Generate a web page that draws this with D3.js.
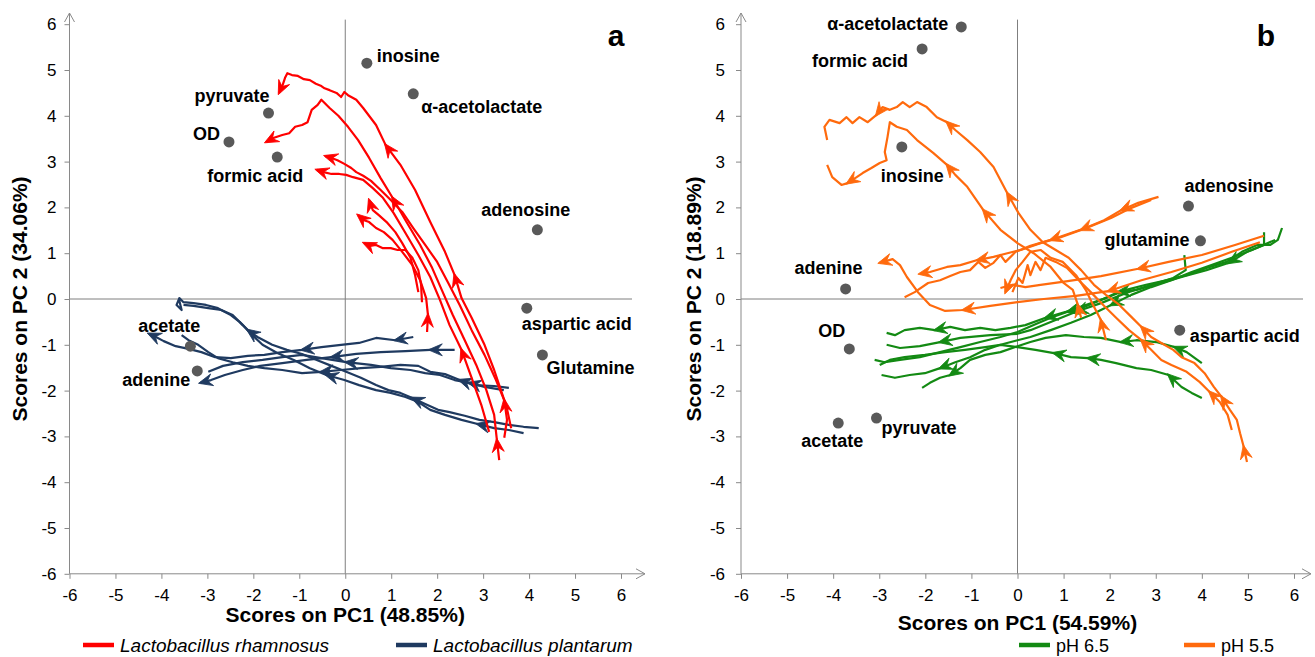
<!DOCTYPE html>
<html>
<head>
<meta charset="utf-8">
<script src="https://cdn.jsdelivr.net/npm/d3@7"></script>
<style>
  body { margin: 0; background: #fff; }
  text { font-family: "Liberation Sans", Arial, sans-serif; }
</style>
</head>
<body>
<script>
// axis ticks (both panels)
const tickValues = [-6, -5, -4, -3, -2, -1, 0, 1, 2, 3, 4, 5, 6];

// panel a: loadings
const loadingNamesA = ['inosine', 'α-acetolactate', 'pyruvate', 'OD', 'formic acid', 'adenosine', 'aspartic acid', 'Glutamine', 'acetate', 'adenine'];
const loadingPC1A = [0.47, 1.48, -1.67, -2.53, -1.48, 4.18, 3.95, 4.29, -3.37, -3.22];
const loadingPC2A = [5.15, 4.48, 4.06, 3.43, 3.10, 1.51, -0.20, -1.22, -1.03, -1.57];

// panel a: L. rhamnosus score trajectories [PC1, PC2]
const rhamnosus = [
  [[3.46,-3.03],[3.52,-2.64],[3.46,-2.21],[3.24,-1.55],[3.03,-1.00],[2.75,-0.41],[2.53,0.02],[2.38,0.52],[2.17,1.03],[1.85,1.68],[1.52,2.38],[1.20,2.93],[0.88,3.36],[0.67,3.80],[0.39,4.17],[0.24,4.35],[0.06,4.45],[-0.02,4.52],[-0.09,4.41],[-0.19,4.50],[-0.34,4.56],[-0.45,4.60],[-0.52,4.65],[-0.64,4.70],[-0.77,4.78],[-0.90,4.80],[-1.03,4.87],[-1.16,4.89],[-1.26,4.93],[-1.31,4.83],[-1.37,4.65],[-1.44,4.50]],
  [[3.35,-3.52],[3.30,-3.08],[3.24,-2.53],[3.07,-1.99],[2.85,-1.44],[2.60,-0.90],[2.34,-0.35],[2.10,0.20],[1.89,0.68],[1.63,1.18],[1.31,1.72],[1.03,2.21],[0.77,2.64],[0.52,3.08],[0.28,3.47],[0.06,3.76],[-0.15,4.00],[-0.34,4.17],[-0.52,4.35],[-0.60,4.24],[-0.73,4.13],[-0.82,3.86],[-0.94,3.80],[-1.09,3.76],[-1.22,3.62],[-1.37,3.58],[-1.55,3.52],[-1.72,3.43]],
  [[3.61,-2.82],[3.50,-2.31],[3.28,-1.77],[3.03,-1.22],[2.75,-0.68],[2.49,-0.13],[2.23,0.37],[2.00,0.81],[1.74,1.18],[1.48,1.55],[1.24,1.90],[0.99,2.16],[0.77,2.38],[0.56,2.58],[0.39,2.69],[0.24,2.77],[0.13,2.86],[-0.02,2.95],[-0.17,3.03],[-0.30,3.08],[-0.43,3.12]],
  [[3.13,-2.90],[2.96,-2.31],[2.75,-1.72],[2.53,-1.11],[2.27,-0.57],[2.06,-0.02],[1.85,0.48],[1.59,0.96],[1.31,1.44],[1.05,1.88],[0.82,2.21],[0.60,2.42],[0.39,2.60],[0.17,2.66],[0.02,2.71],[-0.13,2.73],[-0.30,2.73],[-0.47,2.77],[-0.62,2.82]],
  [[1.67,-0.07],[1.65,0.31],[1.59,0.63],[1.46,0.90],[1.31,1.07],[1.14,1.07],[0.99,1.11],[0.82,1.11],[0.67,1.18],[0.54,1.16],[0.41,1.22]],
  [[1.78,-0.72],[1.80,-0.35],[1.76,0.02],[1.63,0.41],[1.46,0.74],[1.24,1.03],[1.03,1.29],[0.84,1.46],[0.67,1.55],[0.52,1.68],[0.41,1.72],[0.28,1.83]],
  [[1.59,0.15],[1.52,0.52],[1.42,0.90],[1.24,1.22],[1.09,1.46],[0.90,1.68],[0.73,1.83],[0.60,1.94],[0.54,2.10],[0.52,2.16]]
];
const rhamnosusArrows = [[2, 7, 12, 31], [1, 11, 27], [20], [3, 18], [10], [1, 11], [9]];

// panel a: L. plantarum score trajectories
const plantarum = [
  [[1.48,-0.83],[1.09,-0.90],[0.67,-0.85],[0.30,-0.96],[-0.09,-1.00],[-0.52,-1.05],[-0.94,-1.11],[-1.37,-1.16],[-1.76,-1.22],[-2.12,-1.24],[-2.49,-1.29],[-2.83,-1.27],[-3.13,-1.16],[-3.41,-1.09],[-3.69,-1.03],[-3.95,-0.92],[-4.16,-0.81],[-4.27,-0.76]],
  [[2.38,-1.11],[1.85,-1.11],[1.31,-1.14],[0.77,-1.16],[0.24,-1.20],[-0.30,-1.27],[-0.84,-1.33],[-1.37,-1.40],[-1.85,-1.46],[-2.23,-1.55],[-2.62,-1.66],[-2.92,-1.77],[-3.15,-1.83]],
  [[3.56,-1.94],[3.24,-1.90],[2.81,-1.88],[2.49,-1.77],[2.17,-1.64],[1.85,-1.59],[1.59,-1.46],[1.20,-1.44],[0.77,-1.48],[0.34,-1.51],[-0.09,-1.55],[-0.52,-1.59],[-0.94,-1.62],[-1.37,-1.55],[-1.76,-1.51],[-2.12,-1.46],[-2.45,-1.38],[-2.77,-1.29],[-2.98,-1.16],[-3.20,-1.00],[-3.41,-0.90],[-3.56,-0.79]],
  [[4.21,-2.82],[3.88,-2.79],[3.56,-2.75],[3.24,-2.69],[2.92,-2.64],[2.60,-2.55],[2.27,-2.47],[2.02,-2.42],[1.74,-2.29],[1.46,-2.16],[1.20,-2.05],[0.94,-1.99],[0.67,-1.88],[0.34,-1.72],[0.02,-1.59],[-0.30,-1.46],[-0.62,-1.33],[-0.94,-1.20],[-1.27,-1.11],[-1.59,-1.00],[-1.91,-0.83],[-2.12,-0.68],[-2.30,-0.50],[-2.49,-0.35],[-2.77,-0.20],[-3.03,-0.13],[-3.30,-0.09],[-3.52,-0.07],[-3.61,0.02],[-3.67,-0.13],[-3.56,-0.24],[-3.62,0.00]],
  [[3.88,-2.93],[3.56,-2.86],[3.24,-2.82],[2.88,-2.73],[2.53,-2.64],[2.17,-2.53],[1.85,-2.42],[1.59,-2.25],[1.31,-2.14],[0.99,-2.05],[0.67,-1.99],[0.30,-1.88],[-0.02,-1.77],[-0.41,-1.66],[-0.77,-1.51],[-1.12,-1.33],[-1.48,-1.18],[-1.80,-1.00],[-2.02,-0.79],[-2.23,-0.57],[-2.45,-0.35],[-2.70,-0.24],[-2.98,-0.20],[-3.30,-0.15],[-3.52,-0.13]],
  [[3.45,-1.99],[3.03,-1.92],[2.70,-1.83],[2.38,-1.77],[2.06,-1.66],[1.74,-1.62],[1.42,-1.55],[0.99,-1.51],[0.56,-1.44],[0.02,-1.38],[-0.52,-1.29],[-0.94,-1.22],[-1.37,-1.27],[-1.80,-1.33],[-2.23,-1.38],[-2.66,-1.46],[-2.98,-1.59]]
];
const plantarumArrows = [[1, 6, 17], [1, 5, 12], [3, 11], [9, 21], [3, 13], [2, 9]];

// panel b: loadings
const loadingNamesB = ['α-acetolactate', 'formic acid', 'inosine', 'adenosine', 'glutamine', 'adenine', 'OD', 'aspartic acid', 'acetate', 'pyruvate'];
const loadingPC1B = [-1.22, -2.07, -2.51, 3.71, 3.97, -3.73, -3.65, 3.52, -3.89, -3.06];
const loadingPC2B = [5.94, 5.46, 3.32, 2.03, 1.27, 0.22, -1.09, -0.68, -2.71, -2.60];

// panel b: pH 6.5 trajectories
const pH65 = [
  [[5.74,1.55],[5.65,1.29],[5.48,1.18],[5.20,1.18],[4.87,1.03],[4.54,0.81],[4.10,0.68],[3.67,0.52],[3.23,0.41],[2.79,0.31],[2.36,0.20],[1.92,0.02],[1.48,-0.13],[1.05,-0.28],[0.61,-0.41],[0.17,-0.57],[-0.15,-0.63],[-0.48,-0.68],[-0.81,-0.63],[-1.14,-0.68],[-1.46,-0.61],[-1.79,-0.68],[-2.12,-0.63],[-2.45,-0.68],[-2.66,-0.79],[-2.84,-0.74]],
  [[5.35,1.46],[5.35,1.18],[4.98,1.03],[4.59,0.79],[4.10,0.63],[3.62,0.50],[3.12,0.35],[2.58,0.20],[2.18,0.15],[1.81,-0.02],[1.38,-0.20],[1.09,-0.28],[0.72,-0.41],[0.35,-0.57],[0.00,-0.72],[-0.37,-0.83],[-0.81,-0.94],[-1.24,-1.05],[-1.68,-1.16],[-2.12,-1.27],[-2.55,-1.33],[-2.88,-1.38],[-3.10,-1.33]],
  [[5.59,1.29],[5.09,1.07],[4.65,0.90],[4.21,0.74],[3.78,0.59],[3.34,0.41],[2.90,0.26],[2.47,0.09],[2.03,-0.13],[1.59,-0.35],[1.16,-0.52],[0.72,-0.68],[0.28,-0.83],[0.00,-0.90],[-0.37,-1.00],[-0.70,-1.11],[-1.03,-1.27],[-1.35,-1.38],[-1.68,-1.51],[-2.01,-1.62],[-2.34,-1.66],[-2.66,-1.72],[-2.95,-1.66]],
  [[4.00,-1.40],[3.67,-1.16],[3.41,-1.05],[3.01,-0.94],[2.58,-0.90],[2.25,-0.94],[1.81,-0.85],[1.44,-0.83],[1.05,-0.79],[0.61,-0.85],[0.28,-0.94],[0.00,-1.03],[-0.37,-1.16],[-0.70,-1.22],[-1.03,-1.33],[-1.24,-1.51],[-1.46,-1.66],[-1.68,-1.72],[-1.90,-1.83],[-2.07,-1.94]],
  [[4.00,-2.16],[3.78,-2.05],[3.56,-1.92],[3.28,-1.66],[2.90,-1.55],[2.58,-1.51],[2.14,-1.40],[1.81,-1.33],[1.53,-1.29],[1.16,-1.27],[0.79,-1.18],[0.39,-1.11],[0.00,-1.05],[-0.37,-1.00],[-0.70,-1.05],[-1.14,-1.11],[-1.57,-1.16],[-2.01,-1.22],[-2.45,-1.27],[-2.77,-1.33],[-2.99,-1.44]],
  [[3.62,0.96],[3.65,0.63],[3.38,0.46],[2.90,0.31],[2.36,0.13],[1.81,-0.09],[1.27,-0.28],[0.72,-0.50],[0.28,-0.68],[0.00,-0.76],[-0.59,-0.79],[-1.24,-0.85],[-1.68,-0.94],[-2.12,-1.03],[-2.55,-1.07],[-2.84,-1.00]]
];
const pH65Arrows = [[14, 21], [3, 8, 11], [8, 18], [2, 5, 16], [3, 8, 10], [6, 12]];

// panel b: pH 5.5 trajectories
const pH55 = [
  [[4.98,-3.56],[4.91,-3.23],[4.83,-2.93],[4.76,-2.64],[4.61,-2.42],[4.43,-2.14],[4.26,-1.92],[4.06,-1.62],[3.84,-1.40],[3.56,-1.27],[3.38,-1.11],[3.12,-0.96],[2.90,-0.83],[2.69,-0.61],[2.47,-0.39],[2.21,-0.13],[1.92,0.09],[1.66,0.31],[1.38,0.63],[1.11,0.90],[0.83,1.07],[0.55,1.24],[0.28,1.51],[0.02,1.88],[-0.22,2.31],[-0.52,2.88],[-0.81,3.21],[-1.09,3.47],[-1.35,3.69],[-1.53,3.86],[-1.75,3.97],[-1.97,4.19],[-2.18,4.30],[-2.34,4.19],[-2.49,4.30],[-2.62,4.19],[-2.77,4.13],[-2.93,4.19],[-3.06,4.02],[-3.25,3.86],[-3.43,3.97],[-3.58,3.84],[-3.71,3.97],[-3.86,3.84],[-4.08,3.91],[-4.19,3.76],[-4.13,3.47]],
  [[1.38,-0.41],[1.31,-0.13],[1.20,0.20],[1.00,0.35],[0.72,0.70],[0.35,1.00],[0.00,1.22],[-0.37,1.51],[-0.74,1.94],[-1.09,2.45],[-1.35,2.71],[-1.53,2.93],[-1.83,3.19],[-2.18,3.47],[-2.40,3.69],[-2.62,3.76],[-2.77,3.86],[-2.82,3.54],[-2.88,3.21],[-2.84,3.03],[-2.99,2.97],[-3.17,2.86],[-3.36,2.75],[-3.49,2.66],[-3.69,2.53],[-3.82,2.49],[-4.02,2.66],[-4.13,2.93]],
  [[1.92,-0.90],[1.81,-0.46],[1.64,-0.13],[1.48,0.20],[1.27,0.52],[0.98,0.81],[0.72,0.90],[0.50,1.07],[0.28,1.03],[0.11,0.81],[-0.04,0.63],[-0.15,0.41],[-0.26,0.15]],
  [[4.65,-2.86],[4.56,-2.53],[4.39,-2.25],[4.17,-2.03],[3.95,-1.81],[3.67,-1.59],[3.34,-1.44],[3.12,-1.33],[2.90,-1.11],[2.69,-0.90],[2.42,-0.68],[2.14,-0.41],[1.86,-0.13],[1.59,0.15],[1.33,0.41],[1.07,0.68],[0.83,0.81],[0.61,0.90],[0.50,0.63],[0.39,0.81],[0.28,0.52],[0.22,0.74],[0.11,0.35],[0.02,0.46],[-0.11,0.15]],
  [[3.06,2.23],[2.62,2.10],[2.25,1.94],[1.88,1.72],[1.38,1.51],[0.94,1.35],[0.50,1.22],[0.07,1.07],[-0.22,1.00],[-0.52,0.92],[-0.87,0.85],[-1.24,0.74],[-1.53,0.70],[-1.90,0.59],[-2.12,0.55]],
  [[2.90,2.16],[2.47,1.99],[2.03,1.77],[1.59,1.59],[1.16,1.44],[0.72,1.29],[0.28,1.16],[-0.04,1.03],[-0.26,0.81],[-0.37,0.96],[-0.52,0.79],[-0.70,0.68],[-0.85,0.81],[-1.03,0.63],[-1.24,0.59],[-1.46,0.50],[-1.68,0.41],[-1.94,0.35],[-2.23,0.15],[-2.45,0.04]],
  [[5.26,1.24],[4.65,1.03],[4.00,0.79],[3.34,0.59],[2.69,0.41],[1.97,0.17],[1.27,0.07],[0.57,0.00],[0.00,-0.07],[-0.59,-0.15],[-1.18,-0.24],[-1.57,-0.26],[-1.90,-0.13],[-2.16,0.15],[-2.40,0.48],[-2.55,0.74],[-2.71,0.87],[-2.99,0.79]],
  [[5.35,1.38],[4.72,1.18],[4.00,0.96],[3.28,0.81],[2.62,0.66],[1.81,0.50],[1.09,0.39],[0.50,0.31],[0.17,0.26],[-0.11,0.31],[-0.37,0.24]]
];
const pH55Arrows = [[1, 5, 13, 24, 29, 38], [1, 8, 11, 24], [1, 12], [3, 9], [2, 4, 10, 14], [5], [5, 10, 17], [4]];

// label placement: [dx, dy, anchor] in pixels from the dot
const labelLayoutA = [[10,-1,'start'],[8,19,'start'],[1,-11,'end'],[-9,-2,'end'],[-22,25,'middle'],[-56,-14,'start'],[-5,22,'start'],[4,19,'start'],[10,-14,'end'],[-7,15,'end']];
const labelLayoutB = [[-13,3,'end'],[-14,18,'end'],[-21,35,'start'],[-4,-14,'start'],[-11,5,'end'],[-17,-15,'middle'],[-4,-12,'end'],[10,12,'start'],[-6,24,'middle'],[5,16,'start']];

const axisColor = '#898989';
const svg = d3.select('body').append('svg')
    .attr('width', 1315)
    .attr('height', 657)
    .style('background', '#fff');

const y = d3.scaleLinear().domain([-6, 6]).range([573.8, 24.2]);

function drawSeries(g, x, series, arrows, color) {
    const line = d3.line().x(d => x(d[0])).y(d => y(d[1]));
    series.forEach((pts, i) => {
        g.append('path')
            .datum(pts)
            .attr('fill', 'none')
            .attr('stroke', color)
            .attr('stroke-width', 2.2)
            .attr('stroke-linejoin', 'round')
            .attr('d', line);
        // arrowheads along the path, pointing the way it runs
        arrows[i].forEach(k => {
            const a = pts[k];
            const b = pts[k - 1];
            const ang = Math.atan2(y(a[1]) - y(b[1]), x(a[0]) - x(b[0])) * 180 / Math.PI;
            g.append('path')
                .attr('d', 'M2,0L-12,-6L-7,0L-12,6Z')
                .attr('transform', `translate(${x(a[0])},${y(a[1])}) rotate(${ang})`)
                .attr('fill', color)
                .attr('stroke', color)
                .attr('stroke-width', 0.8)
                .attr('stroke-linejoin', 'round');
        });
    });
}

function drawPanel(p) {
    const x = d3.scaleLinear().domain([-6, 6]).range(p.xRange);
    const g = svg.append('g');

    // zero cross lines
    g.append('line')
        .attr('x1', x(0)).attr('x2', x(0))
        .attr('y1', y(6.1)).attr('y2', y(-6))
        .attr('stroke', '#7f7f7f');
    g.append('line')
        .attr('x1', x(-6)).attr('x2', p.zeroEnd)
        .attr('y1', y(0)).attr('y2', y(0))
        .attr('stroke', '#7f7f7f');

    // axes
    g.append('g')
        .attr('transform', `translate(0, ${y(-6)})`)
        .call(d3.axisBottom(x).tickValues(tickValues).tickFormat(d => String(d))
            .tickSize(5).tickPadding(10).tickSizeOuter(0));
    g.append('g')
        .attr('transform', `translate(${x(-6)}, 0)`)
        .call(d3.axisLeft(y).tickValues(tickValues).tickFormat(d => String(d))
            .tickSize(5).tickPadding(p.yPad).tickSizeOuter(0));
    g.selectAll('.domain').remove();
    g.selectAll('.tick line').attr('stroke', axisColor);
    g.selectAll('.tick text')
        .attr('fill', '#000')
        .style('font-size', '17px')
        .style('font-family', '"Liberation Sans", Arial, sans-serif');

    // axis lines with open arrow heads
    const x0 = x(-6), yb = y(-6);
    g.append('line').attr('x1', x0).attr('x2', p.xEnd).attr('y1', yb).attr('y2', yb).attr('stroke', axisColor);
    g.append('line').attr('x1', x0).attr('x2', x0).attr('y1', yb).attr('y2', 13).attr('stroke', axisColor);
    g.append('polyline')
        .attr('points', `${p.xEnd - 9},${yb - 5} ${p.xEnd},${yb} ${p.xEnd - 9},${yb + 5}`)
        .attr('fill', 'none').attr('stroke', axisColor);
    g.append('polyline')
        .attr('points', `${x0 - 5},22 ${x0},13 ${x0 + 5},22`)
        .attr('fill', 'none').attr('stroke', axisColor);

    // trajectories
    p.layers.forEach(l => drawSeries(g, x, l.series, l.arrows, l.color));

    // loadings
    p.names.forEach((name, i) => {
        const cx = x(p.pc1[i]), cy = y(p.pc2[i]);
        const lay = p.layout[i];
        g.append('circle')
            .attr('cx', cx).attr('cy', cy).attr('r', 5.5)
            .attr('fill', '#595959');
        g.append('text')
            .attr('x', cx + lay[0]).attr('y', cy + lay[1])
            .attr('text-anchor', lay[2])
            .style('font-size', '18px')
            .style('font-weight', 'bold')
            .text(name);
    });

    // panel letter
    g.append('text')
        .attr('x', p.letterX).attr('y', 46)
        .attr('text-anchor', 'middle')
        .style('font-size', '30px').style('font-weight', 'bold')
        .text(p.letter);

    // axis titles
    g.append('text')
        .attr('transform', `translate(${p.yTitleX}, 299) rotate(-90)`)
        .attr('text-anchor', 'middle')
        .style('font-size', '21px').style('font-weight', 'bold')
        .text(p.yTitle);
    g.append('text')
        .attr('x', x(0)).attr('y', p.xTitleY)
        .attr('text-anchor', 'middle')
        .style('font-size', '21px').style('font-weight', 'bold')
        .text(p.xTitle);

    // legend
    p.legend.forEach(d => {
        g.append('line')
            .attr('x1', d.x).attr('x2', d.x + 31)
            .attr('y1', 645).attr('y2', 645)
            .attr('stroke', d.color).attr('stroke-width', 4.5);
        g.append('text')
            .attr('x', d.x + 37).attr('y', 652)
            .style('font-size', d.italic ? '19px' : '18px')
            .style('font-style', d.italic ? 'italic' : 'normal')
            .text(d.label);
    });
}

drawPanel({
    xRange: [69.5, 621], zeroEnd: 632, xEnd: 645, yPad: 8,
    names: loadingNamesA, pc1: loadingPC1A, pc2: loadingPC2A, layout: labelLayoutA,
    layers: [
        { series: plantarum, arrows: plantarumArrows, color: '#1f3a60' },
        { series: rhamnosus, arrows: rhamnosusArrows, color: '#ff0000' }
    ],
    letter: 'a', letterX: 616,
    yTitle: 'Scores on PC 2 (34.06%)', yTitleX: 27,
    xTitle: 'Scores on PC1 (48.85%)', xTitleY: 622,
    legend: [
        { x: 83, color: '#ff0000', label: 'Lactobacillus rhamnosus', italic: true },
        { x: 396, color: '#1f3a60', label: 'Lactobacillus plantarum', italic: true }
    ]
});

drawPanel({
    xRange: [741, 1294], zeroEnd: 1303, xEnd: 1311, yPad: 11,
    names: loadingNamesB, pc1: loadingPC1B, pc2: loadingPC2B, layout: labelLayoutB,
    layers: [
        { series: pH65, arrows: pH65Arrows, color: '#138a13' },
        { series: pH55, arrows: pH55Arrows, color: '#ff6a0d' }
    ],
    letter: 'b', letterX: 1266,
    yTitle: 'Scores on PC 2 (18.89%)', yTitleX: 701,
    xTitle: 'Scores on PC1 (54.59%)', xTitleY: 630,
    legend: [
        { x: 1019, color: '#138a13', label: 'pH 6.5', italic: false },
        { x: 1184, color: '#ff6a0d', label: 'pH 5.5', italic: false }
    ]
});
</script>
</body>
</html>
